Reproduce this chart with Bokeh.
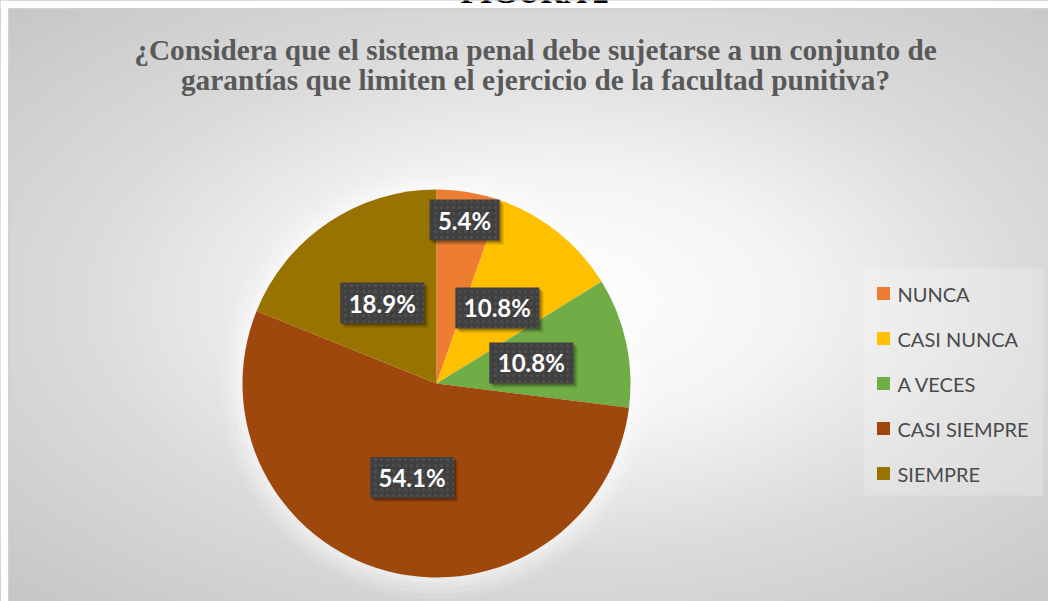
import math
from bokeh.plotting import figure
from bokeh.models import Range1d, ColumnDataSource, Label
from bokeh.core.properties import value
from bokeh.embed import file_html
from bokeh.resources import INLINE

# ---------------- data ----------------
categories = ["NUNCA", "CASI NUNCA", "A VECES", "CASI SIEMPRE", "SIEMPRE"]
percentages = [5.4, 10.8, 10.8, 54.1, 18.9]
colors = ["#ED7D31", "#FFC000", "#70AD47", "#9E480E", "#997300"]
title_lines = [
    "¿Considera que el sistema penal debe sujetarse a un conjunto de",
    "garantías que limiten el ejercicio de la facultad punitiva?",
]
caption = "FIGURA 2"

# ---------------- layout (data units = picture pixels) ----------------
W, H = 1048, 601


def Y(sy):
    return H - sy


CX, CY, R = 436, Y(383), 194

p = figure(width=W, height=H, x_range=Range1d(0, W), y_range=Range1d(0, H),
           output_backend="svg", toolbar_location=None,
           x_axis_type=None, y_axis_type=None, min_border=0,
           outline_line_color=None)
p.border_fill_alpha = 0
p.background_fill_alpha = 0
p.styles = {
    "background": "radial-gradient(ellipse farthest-corner at 53% 50%, #ffffff 0%, #f4f4f4 30%, #dbdbdb 60%, #c5c5c5 100%)"
}

# soft glow around the pie
for k, a in [(22, 0.10), (16, 0.14), (10, 0.18), (5, 0.22)]:
    p.circle(x=CX, y=CY, radius=R + k, fill_color="white", fill_alpha=a, line_color=None)

# pie slices
total = sum(percentages)
fracs = [v / total for v in percentages]
cum = [0.0]
for f in fracs:
    cum.append(cum[-1] + f)
a_start = [math.pi / 2 - 2 * math.pi * cum[i] for i in range(len(fracs))]
a_end = [math.pi / 2 - 2 * math.pi * cum[i + 1] for i in range(len(fracs))]

pie_src = ColumnDataSource(dict(cat=categories, val=percentages, color=colors,
                                a0=a_end, a1=a_start))
p.wedge(x=CX, y=CY, radius=R, start_angle="a0", end_angle="a1", direction="anticlock",
        fill_color="color", line_color=None, source=pie_src)

# data labels
mids = [(s + e) / 2 for s, e in zip(a_start, a_end)]
rfs = [0.855 if f < 0.08 else 0.5 for f in fracs]
lx = [CX + rf * R * math.cos(m) for rf, m in zip(rfs, mids)]
ly = [CY + rf * R * math.sin(m) for rf, m in zip(rfs, mids)]
ltxt = [f"{v:.1f}%" for v in percentages]
lw = [14 * len(t) + 14 for t in ltxt]
lab_src = ColumnDataSource(dict(x=lx, y=ly, t=ltxt, w=lw,
                                sx1=[x + 2 for x in lx], sy1=[y - 2 for y in ly],
                                sx2=[x + 4 for x in lx], sy2=[y - 4 for y in ly]))
p.rect(x="sx2", y="sy2", width="w", height=41, fill_color="black", fill_alpha=0.15,
       line_color=None, source=lab_src)
p.rect(x="sx1", y="sy1", width="w", height=41, fill_color="black", fill_alpha=0.25,
       line_color=None, source=lab_src)
p.rect(x="x", y="y", width="w", height=41, fill_color="#404040", line_color=None,
       hatch_pattern="dot", hatch_color="#5a5a5a", hatch_scale=6, hatch_weight=1.5,
       hatch_alpha=0.6, source=lab_src)
p.text(x="x", y="y", text="t", text_align="center", text_baseline="middle",
       text_font=value("Lato"), text_font_style="bold", text_font_size="24px",
       text_color="white", source=lab_src)

# legend
p.quad(left=863, right=1043, top=Y(268), bottom=Y(495), fill_color="white",
       fill_alpha=0.22, line_color=None)
leg_y = [Y(293 + 45 * i) for i in range(len(categories))]
leg_src = ColumnDataSource(dict(y=leg_y, cat=categories, color=colors))
p.rect(x=883, y="y", width=13, height=13, fill_color="color", line_color=None, source=leg_src)
p.text(x=897, y="y", text="cat", text_align="left", text_baseline="middle",
       text_font=value("Lato"), text_font_size="20px", text_color="#4a4a4a", source=leg_src)

# titles
for i, line in enumerate(title_lines):
    p.add_layout(Label(x=535, y=Y(49 + 30 * i), text=line, text_align="center",
                       text_baseline="alphabetic", text_font="Liberation Serif",
                       text_font_style="bold", text_font_size="29.3px", text_color="#595959"))

# white page strips outside the chart area, frame lines, clipped caption
p.quad(left=0, right=W, bottom=Y(8), top=H, fill_color="white", line_color=None)
p.quad(left=0, right=8, bottom=0, top=H, fill_color="white", line_color=None)
p.add_layout(Label(x=535, y=Y(-9), text=caption, text_align="center",
                   text_baseline="alphabetic", text_font="Liberation Serif",
                   text_font_style="bold", text_font_size="32px", text_color="black"))
p.quad(left=8, right=W, bottom=Y(601), top=Y(8), fill_color=None, fill_alpha=0,
       line_color="#d0d0d0", line_width=1, level="overlay")

open("out.html", "w").write(file_html(p, INLINE))
